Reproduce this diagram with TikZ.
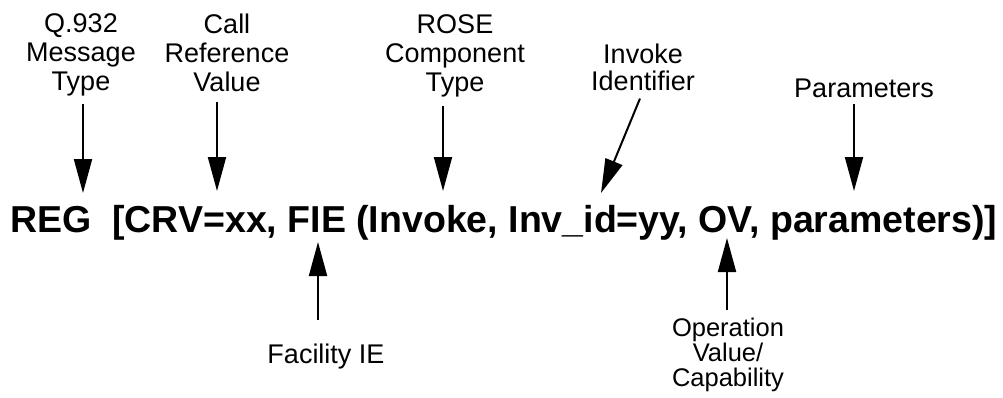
\documentclass[tikz,border=0pt]{standalone}
\usepackage{fontspec}
\setmainfont{Liberation Sans}
\usetikzlibrary{arrows.meta}

\begin{document}
\begin{tikzpicture}[x=1pt,y=-1pt,
       lbl/.style={align=center,inner sep=0pt,anchor=north,font=\fontsize{27}{29}\selectfont},
       pointer/.style={line width=2pt,-{Triangle[length=34pt,width=18pt]}}]
       \useasboundingbox (0,0) rectangle (1003,397);

       \node[anchor=base west,inner sep=0pt,font=\fontsize{37.5}{40}\bfseries\selectfont] (msg) at (10,232)
            {REG\ \ [CRV=xx, FIE (Invoke, Inv\_id=yy, OV, parameters)]};

       \node[lbl] (msgtype) at (81,13) {Q.932\\Message\\Type};
       \node[lbl] (callref) at (227,14) {Call\\Reference\\Value};
       \node[lbl] (rose) at (455,14) {ROSE\\Component\\Type};
       \node[lbl,font=\fontsize{27}{27}\selectfont] (invid) at (643,44) {Invoke\\Identifier};
       \node[lbl] (params) at (864,79) {Parameters};
       \node[lbl] (facie) at (326,344) {Facility IE};
       \node[lbl,font=\fontsize{25.5}{25}\selectfont] (opval) at (728,318) {Operation\\Value/\\Capability};

       \coordinate (msgtypetip) at (83,193);
       \coordinate (callreftip) at (217,191);
       \coordinate (rosetip) at (443,191);
       \coordinate (invidtip) at (601,193);
       \coordinate (paramstip) at (854,191);
       \coordinate (facietip) at (318,242);
       \coordinate (opvaltip) at (727,238);

       \draw [pointer,shorten <=8pt] (msgtype.south -| msgtypetip) -- (msgtypetip);
       \draw [pointer,shorten <=10pt] (callref.south -| callreftip) -- (callreftip);
       \draw [pointer,shorten <=9pt] (rose.south -| rosetip) -- (rosetip);
       \draw [pointer,shorten <=8pt] (invid.south) -- (invidtip);
       \draw [pointer,shorten <=6pt] (params.south -| paramstip) -- (paramstip);
       \draw [pointer,shorten <=24pt] (facie.north -| facietip) -- (facietip);
       \draw [pointer,shorten <=8pt] (opval.north -| opvaltip) -- (opvaltip);
    \end{tikzpicture}
\end{document}
